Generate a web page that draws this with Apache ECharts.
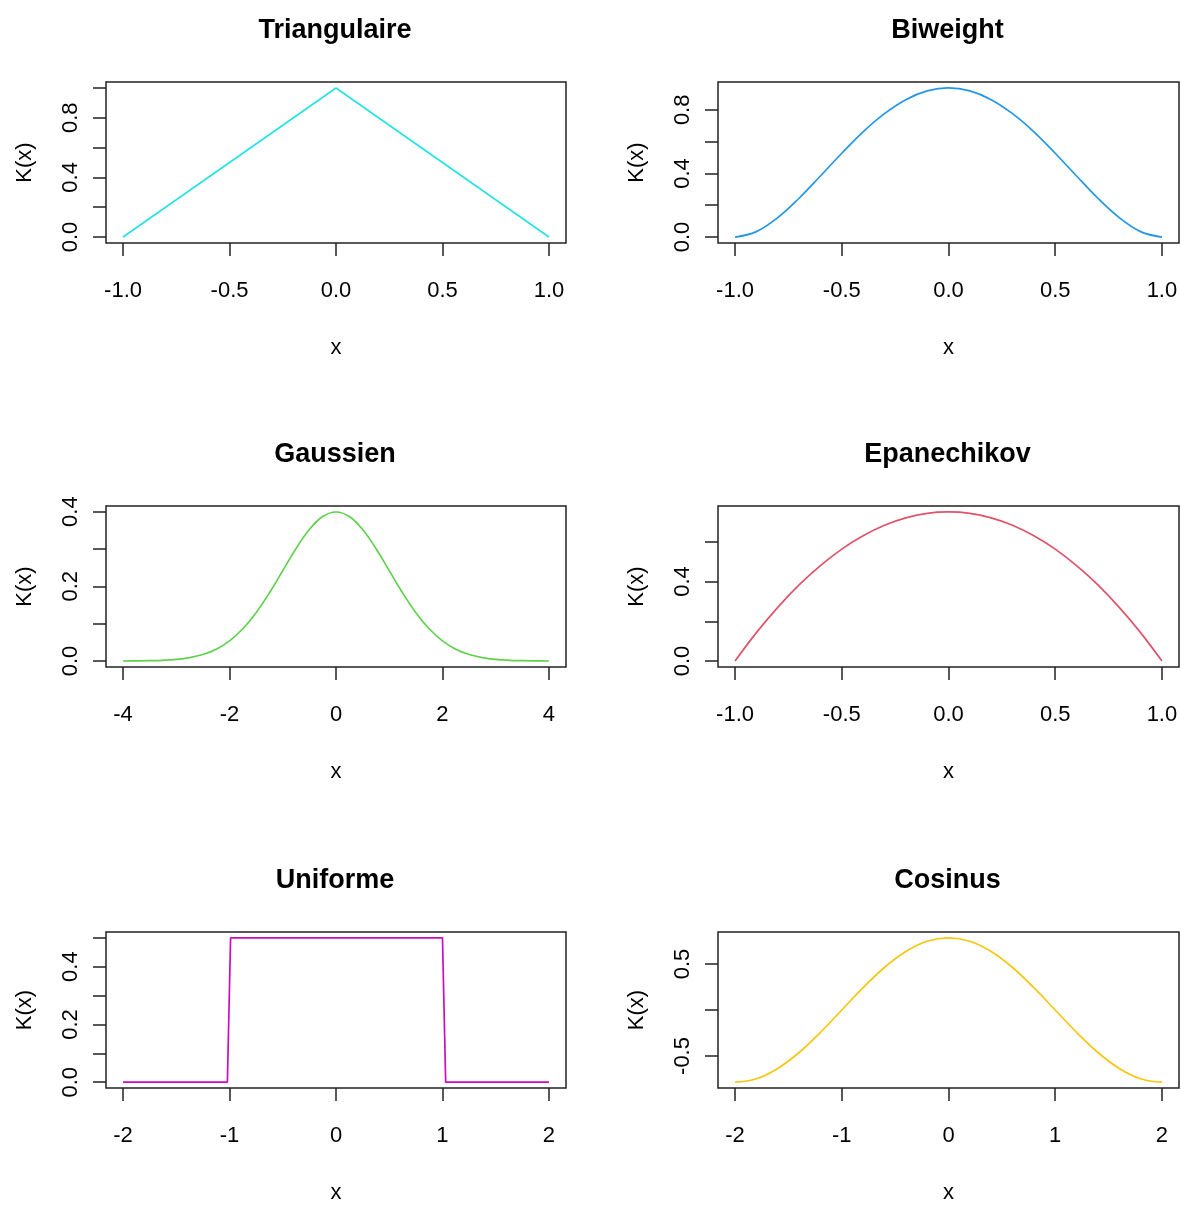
<!DOCTYPE html>
<html>
<head>
<meta charset="utf-8">
<script src="https://cdn.jsdelivr.net/npm/echarts@6/dist/echarts.min.js"></script>
<style>
  html, body { margin: 0; padding: 0; background: #fff; }
  #chart { width: 1181px; height: 1205px; }
</style>
</head>
<body>
<div id="chart"></div>
<script>
// valeurs
const triX = [-1, -0.5, 0, 0.5, 1]
const triY = [0, 0.5, 1, 0.5, 0]

const unitX = [-1, -0.9, -0.8, -0.7, -0.6, -0.5, -0.4, -0.3, -0.2, -0.1, 0,
  0.1, 0.2, 0.3, 0.4, 0.5, 0.6, 0.7, 0.8, 0.9, 1]
const biwY = [0, 0.034, 0.122, 0.244, 0.384, 0.527, 0.662, 0.776, 0.864, 0.919, 0.938,
  0.919, 0.864, 0.776, 0.662, 0.527, 0.384, 0.244, 0.122, 0.034, 0]
const epaY = [0, 0.143, 0.27, 0.383, 0.48, 0.563, 0.63, 0.683, 0.72, 0.743, 0.75,
  0.743, 0.72, 0.683, 0.63, 0.563, 0.48, 0.383, 0.27, 0.143, 0]

const gauX = [-4, -3.75, -3.5, -3.25, -3, -2.75, -2.5, -2.25, -2, -1.75, -1.5, -1.25, -1, -0.75, -0.5, -0.25, 0,
  0.25, 0.5, 0.75, 1, 1.25, 1.5, 1.75, 2, 2.25, 2.5, 2.75, 3, 3.25, 3.5, 3.75, 4]
const gauY = [0.0001, 0.0004, 0.0009, 0.002, 0.0044, 0.0091, 0.0175, 0.0317, 0.054, 0.0863, 0.1295, 0.1826, 0.242, 0.3011, 0.3521, 0.3867, 0.3989,
  0.3867, 0.3521, 0.3011, 0.242, 0.1826, 0.1295, 0.0863, 0.054, 0.0317, 0.0175, 0.0091, 0.0044, 0.002, 0.0009, 0.0004, 0.0001]

const uniX = [-2, -1.02, -0.99, 1, 1.03, 2]
const uniY = [0, 0, 0.5, 0.5, 0, 0]

const cosX = [-2, -1.8, -1.6, -1.4, -1.2, -1, -0.8, -0.6, -0.4, -0.2, 0,
  0.2, 0.4, 0.6, 0.8, 1, 1.2, 1.4, 1.6, 1.8, 2]
const cosY = [-0.785, -0.747, -0.635, -0.462, -0.243, 0, 0.243, 0.462, 0.635, 0.747, 0.785,
  0.747, 0.635, 0.462, 0.243, 0, -0.243, -0.462, -0.635, -0.747, -0.785]

// graduations
const ticksUnit = [-1, -0.5, 0, 0.5, 1]
const ticksGau = [-4, -2, 0, 2, 4]
const ticksTwo = [-2, -1, 0, 1, 2]

const panels = [
  { title: 'Triangulaire', xs: triX, ys: triY, color: '#28E2E5', xr: [-1.08, 1.08], yr: [-0.04, 1.04],
    xTicks: ticksUnit, xDec: 1, yTicks: [0, 0.2, 0.4, 0.6, 0.8, 1], yLabels: [0, 0.4, 0.8], smooth: false },
  { title: 'Biweight', xs: unitX, ys: biwY, color: '#2297E6', xr: [-1.08, 1.08], yr: [-0.0375, 0.975],
    xTicks: ticksUnit, xDec: 1, yTicks: [0, 0.2, 0.4, 0.6, 0.8], yLabels: [0, 0.4, 0.8], smooth: 0.4 },
  { title: 'Gaussien', xs: gauX, ys: gauY, color: '#61D04F', xr: [-4.32, 4.32], yr: [-0.016, 0.415],
    xTicks: ticksGau, xDec: 0, yTicks: [0, 0.1, 0.2, 0.3, 0.4], yLabels: [0, 0.2, 0.4], smooth: 0.4 },
  { title: 'Epanechikov', xs: unitX, ys: epaY, color: '#DF536B', xr: [-1.08, 1.08], yr: [-0.03, 0.78],
    xTicks: ticksUnit, xDec: 1, yTicks: [0, 0.2, 0.4, 0.6], yLabels: [0, 0.4], smooth: 0.4 },
  { title: 'Uniforme', xs: uniX, ys: uniY, color: '#CD0BBC', xr: [-2.16, 2.16], yr: [-0.02, 0.52],
    xTicks: ticksTwo, xDec: 0, yTicks: [0, 0.1, 0.2, 0.3, 0.4, 0.5], yLabels: [0, 0.2, 0.4], smooth: false },
  { title: 'Cosinus', xs: cosX, ys: cosY, color: '#F5C710', xr: [-2.16, 2.16], yr: [-0.848, 0.848],
    xTicks: ticksTwo, xDec: 0, yTicks: [-0.5, 0, 0.5], yLabels: [-0.5, 0.5], smooth: 0.4 }
]

const colLeft = [106, 718]
const colWidth = [460, 461]
const rowTop = [82, 506, 932]
const boxH = 161

const font = 'Liberation Sans, Arial, sans-serif'
const ink = '#222'

const chart = echarts.init(document.getElementById('chart'))

const titles = [], grids = [], xAxes = [], yAxes = [], series = []

panels.forEach((p, i) => {
  const col = i % 2
  const row = Math.floor(i / 2)
  const left = colLeft[col]
  const top = rowTop[row]

  titles.push({
    text: p.title,
    left: left + colWidth[col] / 2 - 1,
    top: top - 65,
    padding: 0,
    textAlign: 'center',
    textStyle: { fontFamily: font, fontSize: 27, fontWeight: 'bold', color: '#000' }
  })

  grids.push({
    left: left, top: top, width: colWidth[col], height: boxH,
    show: true, borderColor: ink, borderWidth: 1.5, backgroundColor: 'transparent'
  })

  xAxes.push({
    gridIndex: i, type: 'value', min: p.xr[0], max: p.xr[1],
    name: 'x', nameLocation: 'middle', nameGap: 94,
    nameTextStyle: { fontFamily: font, fontSize: 22, color: '#000' },
    axisLine: { show: false, onZero: false },
    splitLine: { show: false },
    axisTick: { show: true, inside: false, length: 13, customValues: p.xTicks,
      lineStyle: { color: ink, width: 1.5 } },
    axisLabel: { customValues: p.xTicks, margin: 37, fontFamily: font, fontSize: 22, color: '#000',
      formatter: v => v.toFixed(p.xDec) }
  })

  yAxes.push({
    gridIndex: i, type: 'value', min: p.yr[0], max: p.yr[1],
    name: 'K(x)', nameLocation: 'middle', nameGap: 70,
    nameTextStyle: { fontFamily: font, fontSize: 22, color: '#000' },
    axisLine: { show: false, onZero: false },
    splitLine: { show: false },
    axisTick: { show: true, inside: false, length: 13, customValues: p.yTicks,
      lineStyle: { color: ink, width: 1.5 } },
    axisLabel: { customValues: p.yLabels, rotate: 90, margin: 24, fontFamily: font, fontSize: 22, color: '#000',
      formatter: v => v.toFixed(1) }
  })

  series.push({
    type: 'line', xAxisIndex: i, yAxisIndex: i,
    data: p.xs.map((x, k) => [x, p.ys[k]]),
    showSymbol: false, smooth: p.smooth,
    lineStyle: { color: p.color, width: 1.7 },
    itemStyle: { color: p.color }
  })
})

chart.setOption({
  animation: false,
  backgroundColor: '#fff',
  title: titles,
  grid: grids,
  xAxis: xAxes,
  yAxis: yAxes,
  series: series
})

window.addEventListener('resize', () => chart.resize())
</script>
</body>
</html>
